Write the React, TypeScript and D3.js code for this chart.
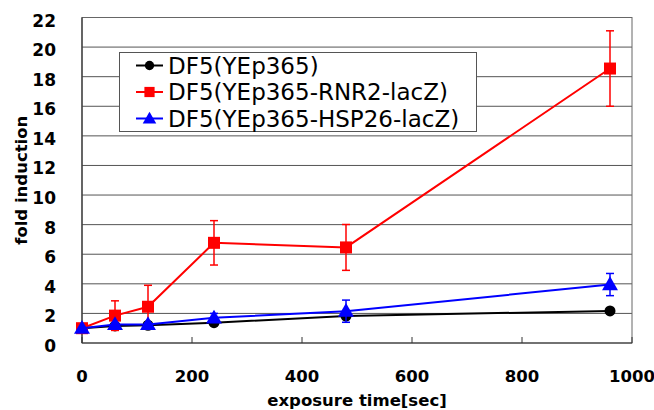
import React, { useRef, useEffect } from 'react';
import * as d3 from 'd3';

// exposure times (sec)
const times = [0, 60, 120, 240, 480, 960];

const seriesNames = ['DF5(YEp365)', 'DF5(YEp365-RNR2-lacZ)', 'DF5(YEp365-HSP26-lacZ)'];
const seriesColors = ['#000000', '#ff0000', '#0000ff'];
const seriesShapes = ['circle', 'square', 'triangle'];

const controlValues = [1.0, 1.15, 1.2, 1.37, 1.82, 2.17];
const controlErrors = [0, 0, 0, 0.15, 0.2, 0];
const rnr2Values = [1.0, 1.85, 2.45, 6.77, 6.46, 18.55];
const rnr2Errors = [0, 1.0, 1.45, 1.5, 1.55, 2.55];
const hsp26Values = [1.0, 1.25, 1.25, 1.7, 2.15, 3.95];
const hsp26Errors = [0, 0.1, 0.1, 0.3, 0.75, 0.75];

const xTicks = [0, 200, 400, 600, 800, 1000];
const yTicks = [0, 2, 4, 6, 8, 10, 12, 14, 16, 18, 20, 22];

const FONT = '"DejaVu Sans", "Liberation Sans", sans-serif';

const App = () => {
  const ref = useRef<SVGSVGElement | null>(null);

  useEffect(() => {
    if (!ref.current) return;
    const svg = d3.select(ref.current);
    svg.selectAll('*').remove();

    const left = 82, right = 632, top = 17.5, bottom = 343;

    const x = d3.scaleLinear().domain([0, 1000]).range([left, right]);
    const y = d3.scaleLinear().domain([0, 22]).range([bottom, top]);

    // gridlines
    svg.append('g')
      .selectAll('line')
      .data(yTicks.slice(1))
      .enter()
      .append('line')
      .attr('x1', left).attr('x2', right)
      .attr('y1', d => y(d)).attr('y2', d => y(d))
      .attr('stroke', '#555').attr('stroke-width', 1);

    // frame
    svg.append('rect')
      .attr('x', left).attr('y', y(22))
      .attr('width', right - left).attr('height', bottom - y(22))
      .attr('fill', 'none').attr('stroke', '#666').attr('stroke-width', 1);

    // axes
    svg.append('line')
      .attr('x1', left).attr('x2', left).attr('y1', top).attr('y2', bottom)
      .attr('stroke', '#333').attr('stroke-width', 1.2);
    svg.append('line')
      .attr('x1', left).attr('x2', right).attr('y1', bottom).attr('y2', bottom)
      .attr('stroke', '#333').attr('stroke-width', 1.2);

    // x ticks (inward)
    svg.append('g')
      .selectAll('line')
      .data(xTicks)
      .enter()
      .append('line')
      .attr('x1', d => x(d)).attr('x2', d => x(d))
      .attr('y1', bottom).attr('y2', bottom - 6)
      .attr('stroke', '#333');

    svg.append('g')
      .selectAll('text')
      .data(xTicks)
      .enter()
      .append('text')
      .attr('x', d => x(d))
      .attr('y', 382)
      .attr('text-anchor', 'middle')
      .attr('font-family', FONT).attr('font-weight', 'bold').attr('font-size', 16.5)
      .text(d => d);

    svg.append('g')
      .selectAll('text')
      .data(yTicks)
      .enter()
      .append('text')
      .attr('x', 56)
      .attr('y', d => y(d) + 9)
      .attr('text-anchor', 'end')
      .attr('font-family', FONT).attr('font-weight', 'bold').attr('font-size', 17)
      .text(d => d);

    // axis titles
    svg.append('text')
      .attr('transform', `translate(27,${(top + bottom) / 2}) rotate(-90)`)
      .attr('text-anchor', 'middle')
      .attr('font-family', FONT).attr('font-weight', 'bold').attr('font-size', 16.5)
      .text('fold induction');
    svg.append('text')
      .attr('x', 357).attr('y', 406)
      .attr('text-anchor', 'middle')
      .attr('font-family', FONT).attr('font-weight', 'bold').attr('font-size', 16.5)
      .text('exposure time[sec]');

    const allValues = [controlValues, rnr2Values, hsp26Values];
    const allErrors = [controlErrors, rnr2Errors, hsp26Errors];

    const drawMarker = (g: any, shape: string, cx: number, cy: number, color: string, s = 1) => {
      if (shape === 'circle') {
        g.append('circle').attr('cx', cx).attr('cy', cy).attr('r', 5.5 * s).attr('fill', color);
      } else if (shape === 'square') {
        const h = 6 * s;
        g.append('rect').attr('x', cx - h).attr('y', cy - h).attr('width', 2 * h).attr('height', 2 * h).attr('fill', color);
      } else {
        const sym = d3.symbol().type(d3.symbolTriangle).size(110 * s * s);
        g.append('path').attr('d', sym()).attr('transform', `translate(${cx},${cy + 1})`).attr('fill', color);
      }
    };

    allValues.forEach((vals, si) => {
      const color = seriesColors[si];
      const g = svg.append('g');
      const line = d3.line<number>().x((_, i) => x(times[i])).y(d => y(d));
      g.append('path')
        .datum(vals)
        .attr('d', line)
        .attr('fill', 'none').attr('stroke', color).attr('stroke-width', 2);
      // error bars
      vals.forEach((v, i) => {
        const e = allErrors[si][i];
        if (e <= 0) return;
        const cx = x(times[i]);
        g.append('line').attr('x1', cx).attr('x2', cx)
          .attr('y1', y(v - e)).attr('y2', y(v + e))
          .attr('stroke', color).attr('stroke-width', 1.5);
        [v - e, v + e].forEach(b => {
          g.append('line').attr('x1', cx - 4).attr('x2', cx + 4)
            .attr('y1', y(b)).attr('y2', y(b))
            .attr('stroke', color).attr('stroke-width', 1.5);
        });
      });
      vals.forEach((v, i) => drawMarker(g, seriesShapes[si], x(times[i]), y(v), color));
    });

    // legend
    const lg = svg.append('g');
    lg.append('rect')
      .attr('x', 119.5).attr('y', 52.5).attr('width', 357).attr('height', 79)
      .attr('fill', '#fff').attr('stroke', '#555').attr('stroke-width', 1);
    seriesNames.forEach((name, i) => {
      const cy = 65.5 + i * 26.5;
      lg.append('line').attr('x1', 136).attr('x2', 163).attr('y1', cy).attr('y2', cy)
        .attr('stroke', seriesColors[i]).attr('stroke-width', 2);
      drawMarker(lg, seriesShapes[i], 149.5, cy, seriesColors[i], 0.85);
      lg.append('text')
        .attr('x', 168).attr('y', cy + 8)
        .attr('font-family', FONT).attr('font-size', 23)
        .text(name);
    });
  }, []);

  return (
    <div style={{ position: 'absolute', left: 0, top: 0 }}>
      <svg ref={ref} width={654} height={410} style={{ display: 'block', background: '#fff' }} />
    </div>
  );
};

export default App;
